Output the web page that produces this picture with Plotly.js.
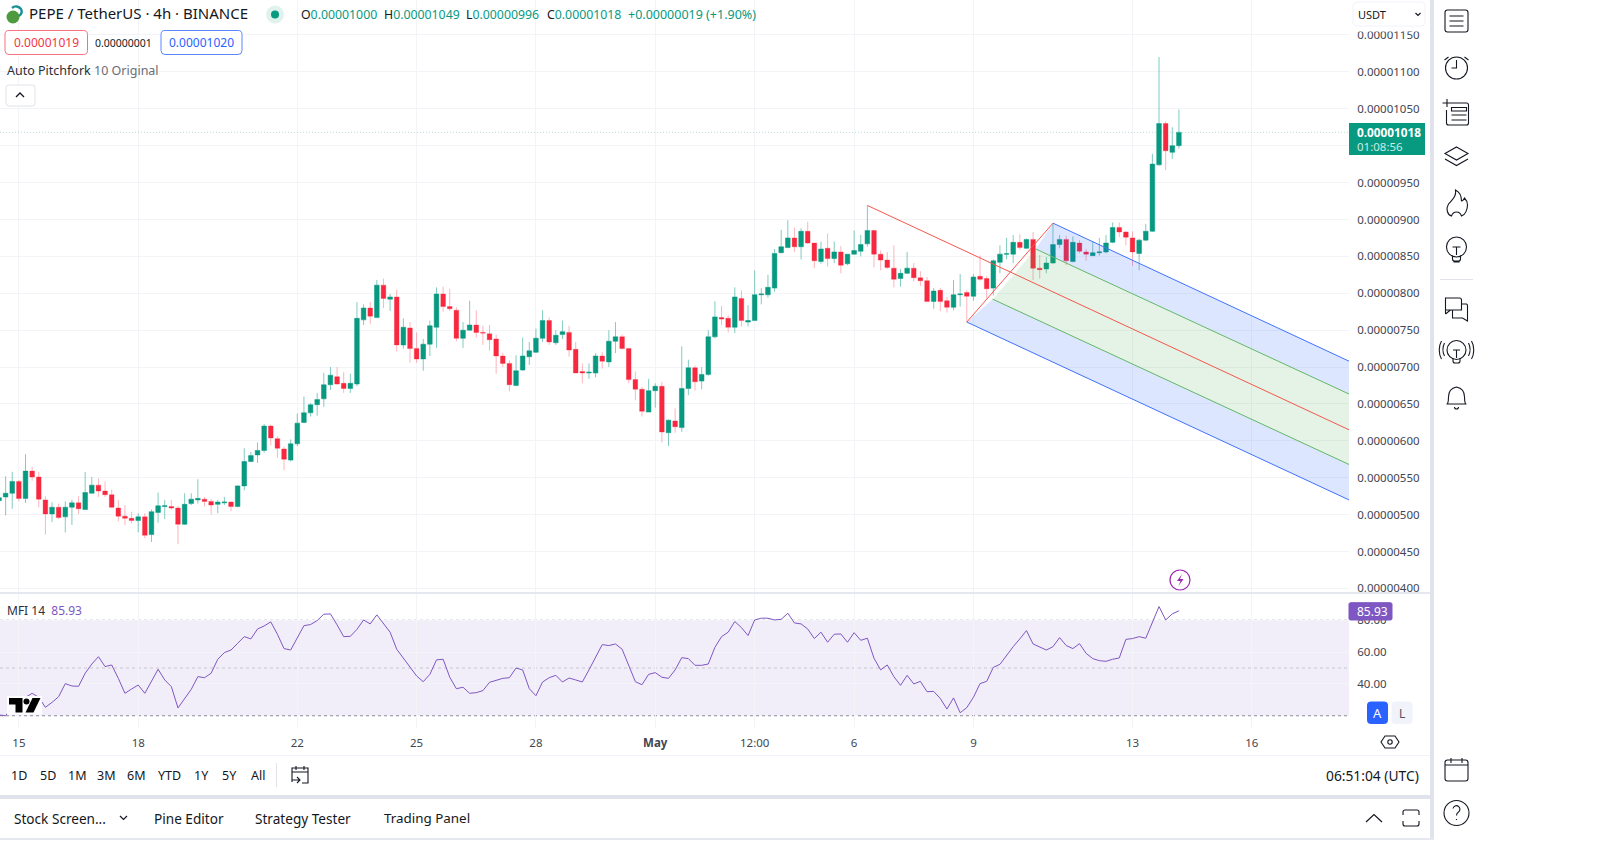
<!DOCTYPE html>
<html><head><meta charset="utf-8">
<script src="https://cdn.plot.ly/plotly-3.0.1.min.js"></script>
<style>html,body{margin:0;padding:0;background:#fff;overflow:hidden}#wrap{position:relative;width:1600px;height:844px}#chart{position:absolute;left:0;top:0;width:1600px;height:844px}#icons{position:absolute;left:0;top:0;pointer-events:none}</style>
</head><body><div id="wrap"><div id="chart"></div>
<svg id="icons" width="1600" height="844" fill="none" stroke="#131722" stroke-width="1.1">
 <!-- pair logo -->
 <circle cx="13" cy="17" r="6.5" fill="#4f9a3f" stroke="none"/><path d="M12 8a6 6 0 0 1 9 1a5 5 0 0 1-2 7" stroke="#1b8f96" stroke-width="2.4"/>
 <!-- status dot -->
 <circle cx="275" cy="14.5" r="9" fill="#dff2ee" stroke="none"/><circle cx="275" cy="14.5" r="4" fill="#089981" stroke="none"/>
 <!-- collapse caret -->
 <path d="M16 97l4-4 4 4" stroke-width="1.3"/>
 <!-- USDT chevron -->
 <path d="M1415.5 13l2.5 2.5 2.5-2.5" stroke-width="1.2"/>
 <!-- replay bolt -->
 <circle cx="1180" cy="580" r="10" stroke="#9c27b0" stroke-width="1.2"/><path d="M1182 574l-5 7h3.500l-2 5 5-7h-3.500z" fill="#9c27b0" stroke="none"/>
 <!-- tv logo -->
 <g stroke="none"><rect x="7" y="696" width="35" height="18.500" fill="#fff" opacity=".9"/><path d="M9 698h13.500v14.500h-7v-8h-6.500z" fill="#000"/><circle cx="26.500" cy="701.500" r="3" fill="#000"/><path d="M32.500 698h8l-7 14.500h-8z" fill="#000"/></g>
 <!-- gear -->
 <path d="M1385 736h10l4 6-4 6h-10l-4-6z" stroke="#131722"/><circle cx="1390" cy="742" r="2.200"/>
 <!-- date range icon -->
 <path d="M292 782v-14h16v15h-6M292 772h16M296 766v4M304 766v4M292 780h8M297 777l3 3-3 3"/>
 <!-- tabs chevron -->
 <path d="M120 816l3.500 3.500 3.500-3.500" stroke-width="1.200"/>
 <path d="M1366 822l8-7.500 8 7.500" stroke-width="1.200"/>
 <path d="M1403 815v-3a2 2 0 0 1 2-2h12a2 2 0 0 1 2 2v3M1403 821v3a2 2 0 0 0 2 2h12a2 2 0 0 0 2-2v-3"/>
 <!-- side toolbar -->
 <g transform="translate(1456.500,0)">
  <rect x="-11.500" y="10" width="23" height="22" rx="2.500"/><path d="M-7 16h14M-7 21h14M-7 26h14"/>
  <circle cx="0" cy="68" r="11"/><path d="M0 60v8h-5M-12 60l4-3M12 60l-4-3"/>
  <path d="M-8 103h18a2 2 0 0 1 2 2v18a2 2 0 0 1-2 2h-18a2 2 0 0 1-2-2v-13M-14 103h9M-9.500 99v8M-5 107.500h15v3.500h-15zM-5 115h15M-5 120h15"/>
  <path d="M0 147l11.500 6.500L0 160l-11.500-6.500zM-11.500 159L0 165.500 11.500 159"/>
  <path d="M-1 190c1 7-3 9-7 14-3 5-1 11 3 12 1-3 3-4 5-4 2 0 4 1 5 4 4-1 6-7 6-11 0-3-2-6-3-7-1 2-2 3-3 3 0-5-2-9-6-11z"/>
  <circle cx="0" cy="247" r="10"/><path d="M-4 247h8M0 247v8M-4 255.500v3.500a2 2 0 0 0 2 2h4a2 2 0 0 0 2-2v-3.500M-3 262h6"/>
  <path d="M-11 298h14a2 2 0 0 1 2 2v10h-16zM-11 314v-16M-11 314l5-4M5 304h5a2 2 0 0 1 1 2v15l-5-3h-10v-8"/>
  <circle cx="0" cy="350" r="9.500"/><path d="M-3.500 350h7M0 350v8M-3.500 358v3a2 2 0 0 0 2 2h3a2 2 0 0 0 2-2v-3M-12 343c-2 4-2 9 0 13M-15 341c-3 5-3 13 0 18M12 343c2 4 2 9 0 13M15 341c3 5 3 13 0 18"/>
  <path d="M-9 404c1-2 1-3 1-7 0-6 3-9 8-10 5 1 8 4 8 10 0 4 0 5 1 7zM-10 404h20M-2 407a2 2 0 0 0 4 0"/>
  <rect x="-11.500" y="760" width="23" height="21" rx="2.500"/><path d="M-11.500 765h23M-5.500 758v5M5.500 758v5"/>
  <circle cx="0" cy="813" r="12.500"/><path d="M-3.500 808.500a3.500 3.500 0 1 1 5.500 3.500c-1.500 1-2 1.800-2 3.500M0 819v1"/>
 </g>
</svg></div>
<script>
/* candle values, in units of 0.00000001 USDT, 4h bars, first bar 2024-04-14 12:00 UTC */
const openE8=[519,524,529,545,522,559,551,520,501,510,
497,510,516,507,529,540,532,527,509,498,
495,492,497,473,503,511,511,509,487,515,
520,521,518,514,516,517,511,539,572,581,
587,620,603,589,574,596,625,638,649,657,
676,687,678,671,677,764,780,767,811,792,
795,730,753,725,711,731,754,799,782,777,
739,750,757,747,745,738,715,705,675,696,
714,720,739,763,733,744,747,724,694,692,
692,715,707,735,741,725,683,670,639,668,
674,611,627,618,671,699,681,690,741,767,
766,754,793,761,763,798,798,807,855,862,
875,863,884,868,843,861,847,856,840,853,
857,867,885,853,845,834,820,827,834,821,
817,789,804,790,781,798,801,796,823,820,
807,842,853,853,869,861,873,834,833,841,
866,873,843,868,856,851,855,856,869,889,
883,875,854,872,884,974,1030,991,1000];
const highE8=[527,552,558,547,582,565,558,525,517,515,
518,520,525,558,551,549,545,534,520,513,
504,502,502,507,530,520,520,512,529,529,
548,524,521,520,524,518,540,590,585,598,
623,622,606,592,602,637,660,651,665,692,
700,700,693,691,788,785,788,818,820,799,
805,766,761,747,738,763,808,809,806,781,
761,790,777,756,757,744,719,709,716,740,
734,752,777,767,750,763,756,734,705,705,
719,720,750,761,744,726,694,673,684,678,
680,629,644,728,710,702,700,750,789,783,
770,808,804,784,831,807,825,860,886,899,
889,888,897,868,870,881,870,864,853,885,
879,919,886,858,856,865,833,856,841,830,
822,807,807,795,818,826,804,826,851,823,
846,865,875,879,880,874,883,852,849,895,
879,878,877,872,860,870,875,879,896,896,
884,884,874,894,989,1120,1033,1025,1049];
const lowE8=[518,499,508,518,516,546,510,473,490,494,
476,486,501,507,529,524,524,509,491,486,
488,476,468,463,489,494,507,460,486,513,
515,511,500,502,513,505,510,533,571,570,
584,594,577,560,572,593,624,633,634,646,
669,676,665,665,674,757,758,767,780,776,
721,725,706,706,695,715,726,775,776,735,
726,750,740,730,722,691,700,667,674,695,
703,719,734,730,730,738,714,692,678,684,
686,698,700,719,724,678,655,633,639,645,
598,593,611,612,662,668,670,688,739,757,
747,746,755,755,763,785,794,802,854,861,
856,846,867,834,840,836,841,827,838,853,
850,863,835,831,833,808,809,826,816,810,
788,779,776,774,777,782,761,790,817,793,
797,827,846,841,859,860,818,820,827,840,
861,838,842,854,844,851,851,854,868,876,
865,837,831,871,883,973,967,982,996];
const closeE8=[523,529,545,522,559,551,521,501,510,496,
510,516,508,530,540,532,527,510,498,495,
492,497,472,504,512,512,509,487,514,521,
522,518,513,517,517,511,539,572,580,587,
620,604,590,575,596,624,638,649,656,676,
689,677,671,678,766,780,769,811,793,795,
730,754,725,711,731,756,799,782,779,739,
750,757,747,746,737,715,705,676,695,715,
722,739,763,734,743,748,723,692,692,693,
715,708,735,741,725,683,670,640,668,674,
612,628,619,671,699,680,690,741,768,765,
754,795,763,763,798,799,808,854,863,875,
863,884,868,844,860,847,856,838,853,858,
866,885,853,845,835,819,827,834,821,817,
789,803,789,781,798,799,796,822,819,806,
844,853,853.5,869,862,873,834,832,841,866,
873,844,869,857,853,855,856,868,889,883,
876,856,872,884,975,1030,993,1000,1018];
/* Money Flow Index, one value per bar */
const mfi=[20.5,20,25.3,28.8,31.6,34.1,31.6,25.3,28.4,32,
40.2,38.7,38.5,46.7,52.5,57.1,50.9,51.9,43.5,34.1,
36.8,39.3,34.1,41.4,49.2,42.5,38.3,24.9,30.5,36.6,
44.6,43.9,46.7,55.5,59.7,61.3,65.5,69.7,68.3,74.5,
76.4,79,71.2,62.2,61.3,69.1,76.6,77.3,79.8,83.8,
84,77.1,69.7,69.9,74.3,80.2,77.7,83.4,78.1,72.5,
61.8,56.1,50.9,45,41.4,46,55.1,55.5,44.2,37,
37.9,34.1,34.5,35.8,41,42.1,43.5,43.9,50,48.8,
37,32.6,41.2,43.9,45.4,41.2,43.7,42.5,41.2,48.8,
57.1,64.7,64.1,65.1,61.8,51.3,41.4,39.5,46,47.1,
44.2,43.5,48.8,56.5,55.9,51.7,51.7,52.5,63,69.7,
72.5,79.2,75.4,70.4,80.2,81.3,81.3,80.2,80.6,84.4,
78.3,77.7,74.5,68.5,72.5,66.2,71.2,71.4,66.2,72.2,
67.4,68.7,56.1,48.8,51.9,44.6,39.1,45.4,40,41.6,
35.1,35.3,30.9,24.2,31.2,21.9,25.1,31.6,40.2,41.6,
50.4,52.3,58.2,63.4,68.3,73.5,65.1,63.4,61.3,63.4,
69.1,64.1,62.2,65.3,59.2,55.9,54.6,54.2,55.5,56.3,
68,68.5,69.7,68.7,78.7,88.6,80.2,84,85.93];
/* pitchfork anchors */
const forkEnd='2024-05-18 10:38';
const forkA=['2024-05-06 08:00',919], forkB=['2024-05-08 20:00',761], forkC=['2024-05-11 00:00',895];
const greenStartUp=['2024-05-10 13:36',860], greenStartLow=['2024-05-09 11:36',792];
const endBlueUp=708, endGreenUp=663.5, endMedian=615, endGreenLow=568, endBlueLow=520;
const lastPrice=1018;
/* axis labels */
const xTickVals=['2024-04-15','2024-04-18','2024-04-22','2024-04-25','2024-04-28','2024-05-01','2024-05-03 12:00','2024-05-06','2024-05-09','2024-05-13','2024-05-16'];
const xTickText=['15','18','22','25','28','<b>May</b>','12:00','6','9','13','16'];
const priceTicks=[400,450,500,550,600,650,700,750,800,850,900,950,1000,1050,1100,1150];
const hiddenPriceTick=1000; /* sits behind the last-price tag in the reference */
const mfiTicks=[40,60,80];

const FONT='"Noto Sans", sans-serif', INK='#131722', AXIS='#434651', GRID='#f3f4f7';
const GREEN='#089981', RED='#f7283f', PURPLE='#7e57c2', BLUE='#2962ff';
const E8=v=>v*1e-8;
const t0=Date.UTC(2024,3,14,12);
const dates=openE8.map((_,i)=>new Date(t0+i*4*3600e3).toISOString().slice(0,16).replace('T',' '));
function T(text,x,y,size,color,o={}){return Object.assign({xref:'paper',yref:'paper',x:x/1600,y:1-y/844,xanchor:'left',yanchor:'middle',showarrow:false,borderpad:0,text,font:{family:FONT,size,color}},o);}
function rr(x0,y0,x1,y1,r,fill,line,lw){const f=(x,y)=>(x/1600).toFixed(6)+','+(1-y/844).toFixed(6);
 const path=`M${f(x0+r,y0)}L${f(x1-r,y0)}Q${f(x1,y0)} ${f(x1,y0+r)}L${f(x1,y1-r)}Q${f(x1,y1)} ${f(x1-r,y1)}L${f(x0+r,y1)}Q${f(x0,y1)} ${f(x0,y1-r)}L${f(x0,y0+r)}Q${f(x0,y0)} ${f(x0+r,y0)}Z`;
 return {type:'path',xref:'paper',yref:'paper',layer:'above',path,fillcolor:fill,line:{color:line||fill,width:lw===undefined?1:lw}};}
function band(x0,y0,x1,y1,c){return {type:'rect',xref:'paper',yref:'paper',layer:'above',x0:x0/1600,x1:x1/1600,y0:1-y1/844,y1:1-y0/844,fillcolor:c,line:{width:0}};}
const yE8=a=>a.map(E8);
const fill=(x,y,c)=>({type:'scatter',mode:'lines',x,y:yE8(y),fill:'toself',fillcolor:c,line:{width:0},hoverinfo:'skip',xaxis:'x',yaxis:'y'});
const ln=(x,y,c)=>({type:'scatter',mode:'lines',x,y:yE8(y),line:{color:c,width:1},hoverinfo:'skip',xaxis:'x',yaxis:'y'});
const BF='rgba(41,98,255,0.16)', GF='rgba(76,175,80,0.15)';
const traces=[
 fill([forkC[0],forkEnd,forkEnd,greenStartUp[0]],[forkC[1],endBlueUp,endGreenUp,greenStartUp[1]],BF),
 fill([greenStartUp[0],forkEnd,forkEnd,greenStartLow[0]],[greenStartUp[1],endGreenUp,endGreenLow,greenStartLow[1]],GF),
 fill([greenStartLow[0],forkEnd,forkEnd,forkB[0]],[greenStartLow[1],endGreenLow,endBlueLow,forkB[1]],BF),
 {type:'candlestick',x:dates,open:yE8(openE8),high:yE8(highE8),low:yE8(lowE8),close:yE8(closeE8),xaxis:'x',yaxis:'y',hoverinfo:'skip',
  whiskerwidth:0,increasing:{line:{color:'rgba(8,153,129,0.5)',width:1},fillcolor:GREEN},decreasing:{line:{color:'rgba(247,40,63,0.35)',width:1},fillcolor:RED}},
 ln([forkA[0],forkEnd],[forkA[1],endMedian],'#f4574c'),
 ln([forkB[0],forkC[0]],[forkB[1],forkC[1]],'#f4574c'),
 ln([forkC[0],forkEnd],[forkC[1],endBlueUp],'#3f72ff'),
 ln([forkB[0],forkEnd],[forkB[1],endBlueLow],'#3f72ff'),
 ln([greenStartUp[0],forkEnd],[greenStartUp[1],endGreenUp],'#63b767'),
 ln([greenStartLow[0],forkEnd],[greenStartLow[1],endGreenLow],'#63b767'),
 {type:'scatter',mode:'lines',x:['2024-04-14 12:36',forkEnd],y:yE8([lastPrice,lastPrice]),line:{color:'rgba(8,153,129,0.3)',width:1,dash:'1px,2px'},hoverinfo:'skip',xaxis:'x',yaxis:'y'},
 {type:'scatter',mode:'lines',x:dates,y:mfi,line:{color:PURPLE,width:1},hoverinfo:'skip',xaxis:'x2',yaxis:'y2'}
];
const hLevel=(v,c)=>({type:'line',xref:'paper',yref:'y2',x0:0,x1:1349/1600,y0:v,y1:v,layer:'below',line:{color:c,width:1,dash:'3px,3px'}});
const shapes=[
 {type:'rect',xref:'paper',yref:'y2',x0:0,x1:1349/1600,y0:20,y1:80,layer:'below',fillcolor:'rgba(126,87,194,0.1)',line:{width:0}},
 hLevel(80,'#9a9ca8'),hLevel(50,'#c6c7d0'),hLevel(20,'#8a8c98'),
 band(1350,0,1430,31.5,'#fff'),
 rr(1353,2,1425,26,4,'#fff','#f0f3fa',1),
 rr(5,30.500,87.500,54.500,4,'#fff','#f7727f',1),
 rr(161,30.500,242,54.500,4,'#fff','#5b86ff',1),
 rr(6,85,35,106,3,'#fff','#e0e3eb',1),
 band(1349,123,1425,155,GREEN),
 rr(1349,602.700,1392,620,1.500,PURPLE),
 rr(1367.500,702,1387.500,723.500,3,BLUE),
 rr(1392,702,1412,723.500,3,'#f0f3fa'),
 band(0,592,1430,594,'#e6e8f0'),
 band(0,755,1430,756,'#f0f3fa'),
 band(0,795,1430,799,'#e0e3eb'),
 band(1430,0,1434,838,'#e0e3eb'),
 band(0,838,1434,840,'#e6e8f0'),
 band(276,763,277,787,'#e0e3eb'),
 band(1440,279,1473,280,'#e0e3eb')
];
const G=c=>`<span style="color:${GREEN}">${c}</span>`;
const annotations=[
 T('PEPE / TetherUS · 4h · BINANCE',27.5,13.5,15,INK),
 T('O'+G('0.00001000'),299.5,14.5,12.3,INK),
 T('H'+G('0.00001049'),382.5,14.5,12.3,INK),
 T('L'+G('0.00000996'),465,14.5,12.3,INK),
 T('C'+G('0.00001018'),545.5,14.5,12.3,INK),
 T('+0.00000019 (+1.90%)',627,14.5,12.5,GREEN),
 T('0.00001019',46,42.5,12,'#f23645',{xanchor:'center'}),
 T('0.00000001',123.5,42.5,10.500,INK,{xanchor:'center'}),
 T('0.00001020',201.500,42.5,12,BLUE,{xanchor:'center'}),
 T(`Auto Pitchfork <span style="color:#6a6d78">10 Original</span>`,5.5,71,12.5,'#2a2e39'),
 T('USDT',1356.5,14.5,11,INK),
 T('<b>0.00001018</b>',1356,132.5,11.8,'#fff'),
 T('01:08:56',1356,146.5,11.5,'#c9ece6'),
 T(`MFI 14  <span style="color:${PURPLE}">85.93</span>`,5.5,610,12,'#2a2e39'),
 T('85.93',1356,611.5,12,'#fff'),
 T('A',1377.5,713,13,'#fff',{xanchor:'center'}),
 T('L',1402,713,12,'#50535e',{xanchor:'center'})
];
[['1D',19],['5D',47.5],['1M',77],['3M',106],['6M',136],['YTD',169],['1Y',201.5],['5Y',229],['All',257.5]].forEach(b=>annotations.push(T(b[0],b[1],775,12.5,INK,{xanchor:'center'})));
annotations.push(T('06:51:04 (UTC)',1420,775,13.8,INK,{xanchor:'right'}));
[['Stock Screen...',12.5,13.6],['Pine Editor',152.5,13.6],['Strategy Tester',254,13.6],['Trading Panel',382.5,13.4]].forEach(b=>annotations.push(T(b[0],b[1],818,b[2],INK)));
const xBase={type:'date',range:['2024-04-14 12:36','2024-05-18 10:38'],domain:[0,1349/1600],tickmode:'array',tickvals:xTickVals,ticktext:xTickText,showgrid:true,gridcolor:GRID,gridwidth:1,zeroline:false,showline:false,rangeslider:{visible:false},fixedrange:true};
const layout={width:1600,height:844,autosize:false,margin:{l:0,r:0,t:0,b:0,pad:0},paper_bgcolor:'#fff',plot_bgcolor:'#fff',showlegend:false,hovermode:false,dragmode:false,
 boxgap:0.3,boxgroupgap:0,
 font:{family:FONT,size:11.5,color:AXIS},
 xaxis:Object.assign({},xBase,{anchor:'y',showticklabels:false,ticks:''}),
 xaxis2:Object.assign({},xBase,{anchor:'y2',matches:'x',showticklabels:true,ticks:'outside',ticklen:4,tickcolor:'rgba(0,0,0,0)',tickfont:{family:FONT,size:11.5,color:AXIS}}),
 yaxis:{domain:[1-592/844,1],range:[E8(395.2),E8(1197.4)],side:'right',anchor:'x',tickmode:'array',tickvals:priceTicks.map(E8),ticktext:priceTicks.map(v=>v===hiddenPriceTick?'':E8(v).toFixed(8)),ticks:'outside',ticklen:5,tickcolor:'rgba(0,0,0,0)',showgrid:true,gridcolor:GRID,zeroline:false,showline:false,fixedrange:true,tickfont:{family:FONT,size:11.5,color:AXIS}},
 yaxis2:{domain:[1-728/844,1-594/844],range:[12.3,96.5],side:'right',anchor:'x2',tickmode:'array',tickvals:mfiTicks,ticktext:mfiTicks.map(v=>v.toFixed(2)),ticks:'outside',ticklen:5,tickcolor:'rgba(0,0,0,0)',showgrid:true,gridcolor:GRID,zeroline:false,showline:false,fixedrange:true,tickfont:{family:FONT,size:11.5,color:AXIS}},
 shapes,annotations};
Plotly.newPlot('chart',traces,layout,{staticPlot:true,displayModeBar:false});
</script></body></html>
